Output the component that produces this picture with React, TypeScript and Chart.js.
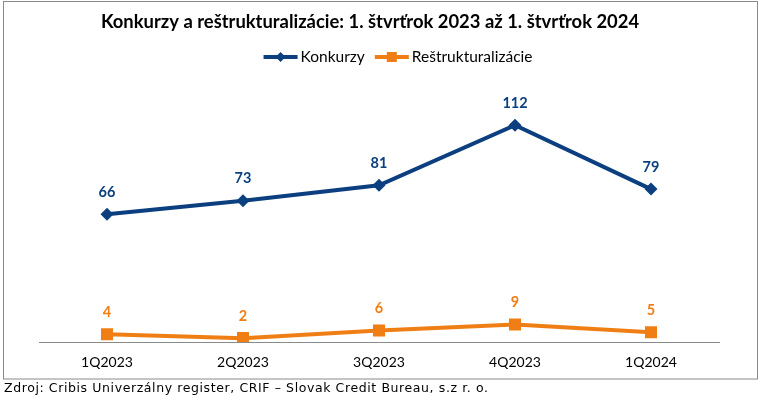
import React, { useEffect, useRef } from "react";
import { Chart, registerables } from "chart.js";

Chart.register(...registerables);

const categories = ["1Q2023", "2Q2023", "3Q2023", "4Q2023", "1Q2024"];
const konkurzy = [66, 73, 81, 112, 79];
const restrukturalizacie = [4, 2, 6, 9, 5];
const seriesNames = ["Konkurzy", "Reštrukturalizácie"];
const titleText = "Konkurzy a reštrukturalizácie: 1. štvrťrok 2023 až 1. štvrťrok 2024";
const sourceText = "Zdroj: Cribis Univerzálny register, CRIF – Slovak Credit Bureau, s.z r. o.";

const BLUE = "#0B3F7F";
const ORANGE = "#EF7F14";
const FONT = "Lato, 'Noto Sans', sans-serif";

const decorPlugin = {
  id: "decor",
  afterDatasetsDraw(chart: any) {
    const ctx = chart.ctx;
    ctx.save();
    ctx.font = `bold 14.5px ${FONT}`;
    ctx.textAlign = "center";
    ctx.textBaseline = "middle";
    chart.data.datasets.forEach((ds: any, i: number) => {
      const meta = chart.getDatasetMeta(i);
      ctx.fillStyle = ds.borderColor;
      meta.data.forEach((pt: any, j: number) => {
        ctx.fillText(String(ds.data[j]), pt.x, pt.y - 22);
      });
    });
    ctx.restore();
  },
  afterDraw(chart: any) {
    const ctx = chart.ctx;
    ctx.save();
    // frame
    ctx.strokeStyle = "#8a8a8a";
    ctx.lineWidth = 1;
    ctx.strokeRect(3.5, 1.5, 754, 377.5);
    // title
    ctx.fillStyle = "#000";
    ctx.font = `bold 18.4px ${FONT}`;
    ctx.textAlign = "center";
    ctx.textBaseline = "middle";
    ctx.fillText(titleText, 370, 22);
    // legend
    ctx.font = `15.5px ${FONT}`;
    ctx.textAlign = "left";
    const ly = 57;
    const items = chart.data.datasets.map((ds: any) => ({
      text: ds.label,
      color: ds.borderColor,
      style: ds.pointStyle,
    }));
    const sampleW = 34;
    const gap = 3;
    const itemGap = 10;
    const widths = items.map((it: any) => sampleW + gap + ctx.measureText(it.text).width);
    const total = widths.reduce((a: number, b: number) => a + b, 0) + itemGap * (items.length - 1);
    let x = 398 - total / 2;
    items.forEach((it: any, k: number) => {
      ctx.strokeStyle = it.color;
      ctx.fillStyle = it.color;
      ctx.lineWidth = 4;
      ctx.beginPath();
      ctx.moveTo(x, ly);
      ctx.lineTo(x + sampleW, ly);
      ctx.stroke();
      const cx = x + sampleW / 2;
      ctx.beginPath();
      if (it.style === "rectRot") {
        ctx.moveTo(cx, ly - 5);
        ctx.lineTo(cx + 5, ly);
        ctx.lineTo(cx, ly + 5);
        ctx.lineTo(cx - 5, ly);
        ctx.closePath();
      } else {
        ctx.rect(cx - 5, ly - 5, 10, 10);
      }
      ctx.fill();
      ctx.fillStyle = "#000";
      ctx.textBaseline = "middle";
      ctx.fillText(it.text, x + sampleW + gap, ly);
      x += widths[k] + itemGap;
    });
    // source
    ctx.font = "12.5px 'DejaVu Sans', sans-serif";
    try {
      (ctx as any).letterSpacing = "0.6px";
    } catch (e) {}
    ctx.fillStyle = "#000";
    ctx.textAlign = "left";
    ctx.textBaseline = "middle";
    ctx.fillText(sourceText, 4, 389);
    ctx.restore();
  },
};

export default function App() {
  const ref = useRef<HTMLCanvasElement>(null);
  useEffect(() => {
    document.body.style.margin = "0";
    const canvas = ref.current;
    if (!canvas) return;
    const chart = new Chart(canvas, {
      type: "line",
      data: {
        labels: categories,
        datasets: [
          {
            label: seriesNames[0],
            data: konkurzy,
            borderColor: BLUE,
            backgroundColor: BLUE,
            borderWidth: 4,
            pointStyle: "rectRot",
            pointRadius: 6.5,
            pointBorderWidth: 0,
            pointBackgroundColor: BLUE,
            tension: 0,
          },
          {
            label: seriesNames[1],
            data: restrukturalizacie,
            borderColor: ORANGE,
            backgroundColor: ORANGE,
            borderWidth: 4,
            pointStyle: "rect",
            pointRadius: 8.5,
            pointBorderWidth: 0,
            pointBackgroundColor: ORANGE,
            tension: 0,
          },
        ],
      },
      options: {
        responsive: false,
        animation: false,
        devicePixelRatio: 1,
        layout: { padding: { left: 39, right: 41, top: 71, bottom: 0 } },
        plugins: {
          legend: { display: false },
          title: { display: false },
          tooltip: { enabled: false },
        },
        scales: {
          x: {
            offset: true,
            grid: { display: false, drawTicks: false },
            border: { display: true, color: "#8a8a8a", width: 1 },
            ticks: { font: { family: FONT, size: 14 }, color: "#000", padding: 12 },
            afterFit: (s: any) => {
              s.height = 56;
            },
          },
          y: { display: false, min: 0, max: 140 },
        },
      },
      plugins: [decorPlugin],
    });
    return () => chart.destroy();
  }, []);
  return (
    <div style={{ position: "absolute", left: 0, top: 0, width: 760, height: 398, background: "#fff" }}>
      <canvas ref={ref} width={760} height={398} style={{ width: 760, height: 398, display: "block" }} />
    </div>
  );
}
